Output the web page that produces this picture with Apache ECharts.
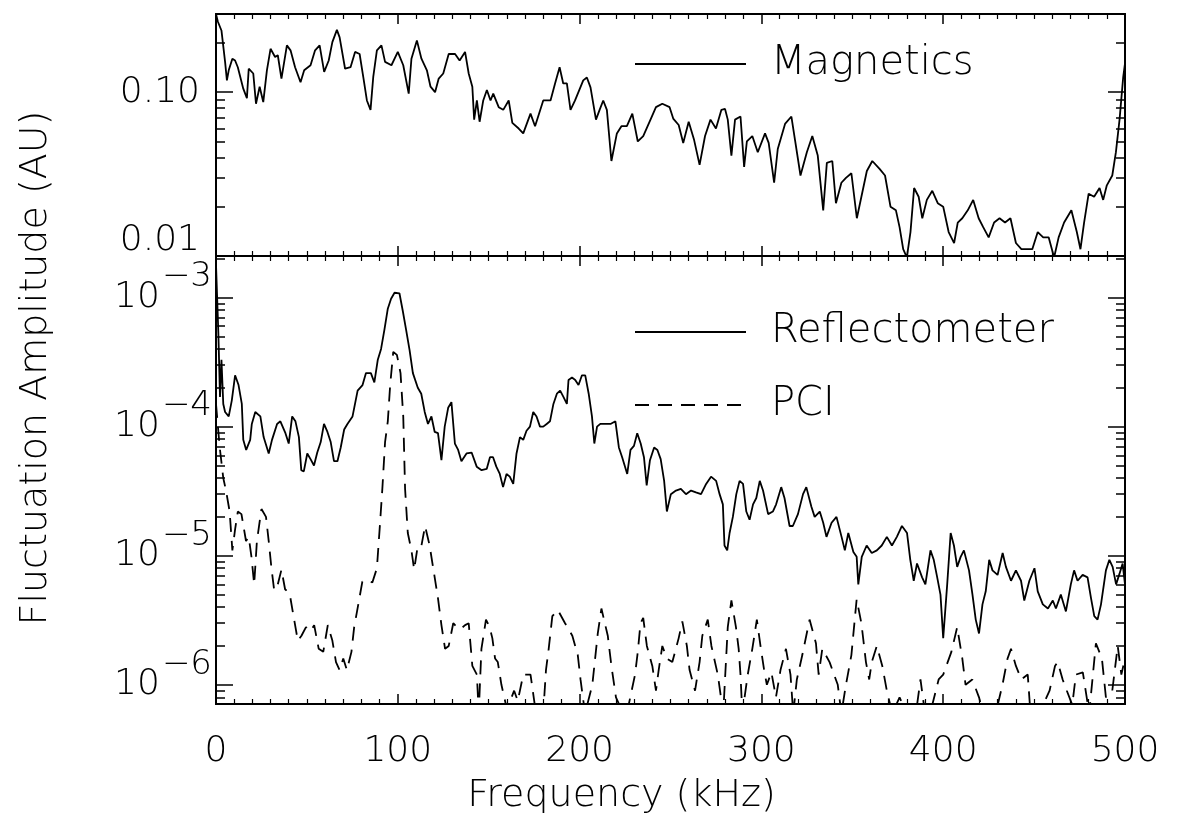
<!DOCTYPE html>
<html>
<head>
<meta charset="utf-8">
<script src="https://cdn.jsdelivr.net/npm/echarts@6.0.0/dist/echarts.min.js"></script>
<style>
  html, body { margin: 0; padding: 0; background: #fff; }
  #chart { width: 1179px; height: 835px; }
</style>
</head>
<body>
<div id="chart"></div>
<script>
// ---- data ----
// top panel: Magnetics (kHz, AU)
const magFreq = [0, 1, 3, 5, 6, 7, 9, 10.5, 12, 15, 17, 18, 20.5, 22, 24, 26, 28, 30, 32.5, 34, 36, 39, 41, 43.5, 46.5, 48.5,
  52, 54.5, 57, 59.5, 62, 64, 66.5, 68, 71, 74, 76.5, 79, 81, 83, 85, 86.5, 88.5, 91, 93, 96.5, 100, 103, 106, 107.5,
  110.5, 113, 116, 118, 120.5, 122.5, 125, 128, 131.5, 134, 137, 139, 141, 142, 143.5, 145, 147, 149, 151, 152.5, 155.5,
  158, 161, 163, 166.5, 169, 173, 175.5, 180, 184, 186.5, 189, 191, 193, 195, 197.5, 202, 204, 206, 209, 211, 213, 215,
  217.5, 220.5, 223, 226, 229, 232, 235, 239, 242, 245.5, 249.5, 251.5, 254.5, 257, 260, 263, 266, 269, 272, 275, 278,
  280, 281.5, 283.5, 285.5, 288.5, 290.5, 292, 295, 298, 302, 304, 307, 309, 313, 316.5, 318.5, 321.5, 325, 328, 331,
  334, 336, 339, 341, 344, 346.5, 349.5, 352.5, 355, 358, 361, 365, 368, 371, 374, 376, 378, 380, 382, 384, 386.5, 388.5,
  391, 394, 397, 400, 403, 406, 408, 410.5, 413.5, 416.5, 419.5, 422, 425, 428, 431, 434, 437, 440, 443, 446, 449, 452,
  455, 458, 461, 463.5, 466.5, 470.5, 473.5, 475.5, 477.5, 480, 483, 486, 488, 490, 493, 495, 497, 499, 500];
const magAmp = [0.30, 0.27, 0.238, 0.153, 0.118, 0.136, 0.16, 0.156, 0.142, 0.105, 0.092, 0.139, 0.13, 0.085, 0.108, 0.087,
  0.136, 0.184, 0.164, 0.168, 0.121, 0.193, 0.18, 0.142, 0.115, 0.136, 0.146, 0.18, 0.193, 0.133, 0.156, 0.202, 0.24,
  0.216, 0.139, 0.142, 0.176, 0.171, 0.124, 0.089, 0.078, 0.124, 0.18, 0.193, 0.153, 0.146, 0.176, 0.146, 0.098, 0.16,
  0.207, 0.16, 0.136, 0.108, 0.1, 0.121, 0.13, 0.171, 0.171, 0.156, 0.176, 0.13, 0.108, 0.068, 0.089, 0.066, 0.089, 0.103,
  0.089, 0.098, 0.081, 0.078, 0.089, 0.065, 0.06, 0.056, 0.074, 0.062, 0.089, 0.089, 0.113, 0.142, 0.113, 0.113, 0.078,
  0.089, 0.118, 0.123, 0.107, 0.068, 0.078, 0.089, 0.078, 0.038, 0.056, 0.062, 0.062, 0.074, 0.05, 0.054, 0.068, 0.081,
  0.085, 0.081, 0.069, 0.063, 0.049, 0.066, 0.051, 0.036, 0.054, 0.068, 0.06, 0.078, 0.079, 0.068, 0.041, 0.068, 0.071,
  0.035, 0.05, 0.054, 0.043, 0.056, 0.049, 0.028, 0.045, 0.064, 0.071, 0.051, 0.031, 0.043, 0.054, 0.041, 0.019, 0.037,
  0.038, 0.021, 0.028, 0.03, 0.032, 0.017, 0.023, 0.033, 0.038, 0.034, 0.031, 0.02, 0.019, 0.015, 0.011, 0.0098, 0.014,
  0.026, 0.023, 0.017, 0.022, 0.025, 0.021, 0.02, 0.014, 0.012, 0.016, 0.017, 0.019, 0.022, 0.017, 0.015, 0.013, 0.016,
  0.017, 0.016, 0.017, 0.012, 0.011, 0.011, 0.011, 0.014, 0.013, 0.013, 0.0098, 0.013, 0.016, 0.019, 0.014, 0.011, 0.016,
  0.024, 0.023, 0.026, 0.022, 0.027, 0.031, 0.043, 0.068, 0.123, 0.15];

// bottom panel: Reflectometer (kHz, AU)
const refFreq = [0, 1.3, 2.2, 3, 4, 5, 7, 8.7, 10.5, 12.4, 14.2, 15, 16.6, 18.8, 19.7, 21.6, 24.4, 26.2, 29, 30.8, 33.6,
  35.4, 38.2, 40, 41.9, 43.7, 45.6, 46.9, 48.3, 50.2, 52, 53.9, 55.7, 57.6, 59.4, 61.3, 63.1, 64.9, 66.8, 68.6, 70.5,
  72.3, 75.1, 77.9, 80.6, 82.5, 85.2, 87.1, 89, 90.8, 92.6, 94.5, 96.3, 98.2, 100.9, 102.8, 104.6, 106.5, 108.3, 111,
  112.9, 114.8, 116.6, 118.5, 120.3, 122.1, 124, 125.8, 127.7, 129.5, 131.4, 133.2, 135, 137.8, 140.6, 143.4, 146.1,
  148.9, 150.7, 152.4, 154.2, 156.1, 157.9, 159.8, 161.6, 163.5, 165.3, 167.2, 169, 170.8, 172.7, 174.5, 176.3, 178.2,
  180, 181.9, 183.7, 185.6, 187.5, 189.3, 191.1, 193, 193.9, 195.8, 197.6, 199.4, 201.3, 203.1, 205, 206.8, 208.1, 209.6,
  211.4, 214.2, 217, 219.7, 221.6, 223.4, 226.2, 228, 229.9, 231.7, 233.6, 235.4, 236.9, 238.7, 241, 242.8, 244.6, 246.5,
  248, 250.2, 253, 255.7, 258.5, 261.3, 264, 266.8, 269.6, 272.3, 275.1, 277, 278.8, 279.7, 281.2, 282.5, 284.3, 286.2,
  288, 289.9, 291.7, 293.5, 295.4, 297.2, 299.1, 300.9, 303.7, 306.3, 308.1, 310.9, 312.7, 315.5, 317.3, 320.1, 322.9,
  324.7, 327.5, 329.3, 332.1, 334, 335.8, 338.6, 341.3, 344.1, 345.9, 347.8, 350.6, 352.4, 353.3, 355.2, 357.9, 360.7,
  363.5, 366.2, 369, 371.8, 374.5, 377.3, 380.1, 381.9, 383.8, 385.6, 388.4, 390.2, 393, 394.8, 396.7, 398.5, 400, 402.2,
  404.1, 405.9, 407.7, 409.6, 411.4, 414.2, 416.1, 417.9, 419.7, 421.6, 423.4, 425.3, 427.1, 429.9, 432.7, 434.5, 437.3,
  440, 442.8, 444.6, 447.4, 450.2, 452, 454.8, 457.6, 460.3, 462, 464.7, 467.5, 470.2, 472, 473.9, 476.7, 479.4, 481.3,
  483.1, 484.9, 486.8, 489.5, 491.4, 493.2, 495.1, 496.9, 498.7, 500];
const refAmp = [1.8e-3, 5.3e-4, 1.7e-4, 3.3e-4, 1.5e-4, 1.3e-4, 1.2e-4, 1.6e-4, 2.5e-4, 2.1e-4, 1.5e-4, 7.9e-5, 6.6e-5,
  7.9e-5, 1.05e-4, 1.3e-4, 1.2e-4, 8.3e-5, 6.2e-5, 7.9e-5, 1.05e-4, 1.1e-4, 8.9e-5, 7.4e-5, 1.2e-4, 1.1e-4, 8.3e-5,
  4.6e-5, 4.5e-5, 6.2e-5, 5.6e-5, 5e-5, 6.3e-5, 7.6e-5, 1.05e-4, 9.1e-5, 7.6e-5, 5.4e-5, 5.4e-5, 6.9e-5, 9.5e-5, 1.05e-4,
  1.2e-4, 1.9e-4, 2.1e-4, 2.6e-4, 2.6e-4, 2.2e-4, 3.3e-4, 4e-4, 5.6e-4, 8.2e-4, 9.8e-4, 1.09e-3, 1.08e-3, 7.8e-4, 5.6e-4,
  3.9e-4, 2.6e-4, 2e-4, 1.8e-4, 1.3e-4, 1.05e-4, 1.2e-4, 9.1e-5, 8.9e-5, 5.5e-5, 1e-4, 1.4e-4, 1.55e-4, 7.4e-5, 6.6e-5,
  5.4e-5, 6.2e-5, 6.3e-5, 4.9e-5, 4.6e-5, 4.7e-5, 5.8e-5, 5.8e-5, 4.9e-5, 4.3e-5, 3.4e-5, 4.3e-5, 4.1e-5, 3.6e-5, 6.2e-5,
  8.3e-5, 7.9e-5, 9.3e-5, 1e-4, 1.3e-4, 1.2e-4, 1e-4, 1e-4, 1.05e-4, 1.1e-4, 1.5e-4, 1.8e-4, 1.9e-4, 1.7e-4, 1.5e-4,
  2.3e-4, 2.4e-4, 2.3e-4, 2.1e-4, 2.5e-4, 2.5e-4, 1.8e-4, 1.2e-4, 7.4e-5, 1e-4, 1.05e-4, 1.05e-4, 1.05e-4, 1.1e-4, 6.9e-5,
  5.8e-5, 4.3e-5, 6.6e-5, 7.1e-5, 8.9e-5, 7.4e-5, 5.8e-5, 3.5e-5, 5.5e-5, 6.9e-5, 6.6e-5, 5.6e-5, 3.8e-5, 2.2e-5, 3e-5,
  3.2e-5, 3.3e-5, 3e-5, 3.2e-5, 3.1e-5, 3e-5, 3.6e-5, 4.1e-5, 3.8e-5, 3e-5, 2.5e-5, 1.2e-5, 1.1e-5, 1.5e-5, 2e-5, 3e-5,
  3.8e-5, 3.6e-5, 2.2e-5, 1.9e-5, 2.5e-5, 2.8e-5, 3.8e-5, 3.2e-5, 2.1e-5, 2.2e-5, 2.5e-5, 3.4e-5, 2.8e-5, 1.7e-5, 1.7e-5,
  2.1e-5, 3e-5, 3.4e-5, 2.4e-5, 2e-5, 2.2e-5, 1.8e-5, 1.4e-5, 1.8e-5, 2e-5, 1.4e-5, 1.1e-5, 1.5e-5, 1.07e-5, 9.8e-6, 6e-6,
  9.8e-6, 1.2e-5, 1.05e-5, 1.1e-5, 1.2e-5, 1.4e-5, 1.2e-5, 1.4e-5, 1.7e-5, 1.5e-5, 9.3e-6, 6.4e-6, 8.7e-6, 6.8e-6, 6e-6,
  1.1e-5, 9.3e-6, 6.8e-6, 5e-6, 2.3e-6, 6e-6, 1.5e-5, 1.2e-5, 8.2e-6, 9.8e-6, 1.1e-5, 7.7e-6, 5e-6, 3.2e-6, 2.5e-6, 4.2e-6,
  5.3e-6, 9.3e-6, 7.7e-6, 7.1e-6, 1.05e-5, 8.2e-6, 6.4e-6, 7.7e-6, 6.4e-6, 4.5e-6, 6.4e-6, 8e-6, 5.3e-6, 4.2e-6, 3.9e-6,
  4.5e-6, 3.9e-6, 5e-6, 3.7e-6, 6e-6, 7.7e-6, 6.4e-6, 7.1e-6, 6.8e-6, 4.7e-6, 3.4e-6, 3.2e-6, 4.2e-6, 7.7e-6, 9.3e-6,
  8.2e-6, 6e-6, 7.2e-6, 8.7e-6, 6e-6];

// bottom panel: PCI (kHz, AU); values under the axis floor are clipped
const pciFreq = [0, 2, 4, 5.5, 7.5, 9, 10.5, 12, 14, 16.5, 18, 19.5, 21, 22.5, 25, 27.5, 29, 30.5, 32, 34, 36, 38, 40.5,
  42.5, 45, 47, 49.5, 52, 54, 56.5, 59, 61.5, 64, 66, 68, 70, 72, 74.5, 76, 78, 80.5, 83, 86, 88.5, 90, 91.5, 93, 94.5,
  95.8, 97.5, 99.5, 101.5, 103, 104, 105.5, 107.5, 109, 111, 113, 115, 117.5, 120, 122, 124, 126, 128, 130.5, 132.5,
  134.5, 137, 139, 141, 143.5, 144.5, 146, 148.5, 150.5, 152, 153.5, 155, 157, 160, 164, 166, 169, 173, 176, 180, 181.5,
  183, 185, 188, 192, 196, 199, 200.5, 203, 207, 210, 212, 215.5, 217.5, 220, 224, 227, 230.5, 232, 233.5, 235, 237, 240,
  242, 243.5, 245.5, 248, 251, 254.5, 256.5, 259, 260.5, 263.5, 266, 267.5, 270.5, 272.5, 276, 279, 281.5, 283.5, 286,
  287.5, 288.5, 289.5, 292.5, 295, 297.5, 299.5, 301.5, 303, 305.5, 308, 310.5, 313.5, 316, 317.5, 319.5, 322.5, 326.5,
  330, 331.5, 333.5, 337.5, 342, 344, 346.5, 349.5, 352.4, 355, 357.5, 359.3, 360.7, 363.5, 366.5, 369, 372, 376, 380,
  385, 387.5, 390, 394, 397.5, 400, 404.5, 407.7, 410.5, 412.3, 416, 419.7, 422, 428, 430, 432.6, 435.4, 437.3, 440, 443,
  446.5, 448, 452, 455, 458.5, 461.5, 463, 465.7, 468, 471, 473, 476.8, 480.3, 484, 487.3, 489.5, 493, 496, 498, 500];
const pciAmp = [1.5e-4, 7e-5, 4e-5, 3.2e-5, 2.2e-5, 1.1e-5, 1.6e-5, 2.2e-5, 2.1e-5, 1.3e-5, 1.4e-5, 9.8e-6, 6e-6, 1.3e-5,
  2.3e-5, 2e-5, 1.3e-5, 8e-6, 5.4e-6, 6e-6, 7.8e-6, 5.5e-6, 5.1e-6, 3.5e-6, 2.2e-6, 2.4e-6, 2.8e-6, 2.6e-6, 2.9e-6,
  1.9e-6, 1.8e-6, 2.9e-6, 2.2e-6, 1.5e-6, 1.3e-6, 1.6e-6, 1.3e-6, 1.8e-6, 2.8e-6, 4e-6, 6.3e-6, 6.5e-6, 6.2e-6, 8e-6,
  1.6e-5, 3.3e-5, 7.6e-5, 1.1e-4, 2.1e-4, 3.8e-4, 3.6e-4, 2.6e-4, 1.2e-4, 3.3e-5, 1.5e-5, 1.1e-5, 7.8e-6, 1.2e-5, 1.2e-5,
  1.7e-5, 1.2e-5, 7.2e-6, 4.8e-6, 2.9e-6, 1.9e-6, 2e-6, 3e-6, 2.8e-6, 2.7e-6, 2.9e-6, 3e-6, 1.4e-6, 1.2e-6, 6e-7, 1.9e-6,
  3.2e-6, 2.8e-6, 2.3e-6, 1.6e-6, 1.5e-6, 1e-6, 6.5e-7, 9e-7, 7.5e-7, 1.2e-6, 1.2e-6, 6e-7, 6e-7, 1.3e-6, 1.9e-6, 3.4e-6,
  3.8e-6, 3e-6, 2.4e-6, 1.7e-6, 1.1e-6, 6e-7, 1e-6, 2.5e-6, 3.9e-6, 2.4e-6, 1.4e-6, 8e-7, 6e-7, 7e-7, 1.2e-6, 1.8e-6,
  3e-6, 3.3e-6, 2e-6, 1.4e-6, 9e-7, 1.3e-6, 2e-6, 1.6e-6, 1.5e-6, 2.3e-6, 3.1e-6, 2e-6, 1.3e-6, 9e-7, 1.5e-6, 2.4e-6,
  3.2e-6, 2e-6, 1.2e-6, 6e-7, 2.8e-6, 4.5e-6, 2.8e-6, 1.9e-6, 1.2e-6, 6e-7, 1.2e-6, 1.9e-6, 3.2e-6, 2e-6, 1.3e-6, 1e-6,
  1.25e-6, 8e-7, 1.3e-6, 1.9e-6, 1.2e-6, 6e-7, 1.1e-6, 1.7e-6, 3.2e-6, 2.1e-6, 1.2e-6, 1.9e-6, 1.5e-6, 1e-6, 6e-7, 1e-6,
  1.7e-6, 4.6e-6, 3e-6, 1.5e-6, 1.1e-6, 1.5e-6, 2e-6, 1.4e-6, 9e-7, 6e-7, 8e-7, 6e-7, 6e-7, 1.1e-6, 6e-7, 7e-7, 1.1e-6,
  1.2e-6, 1.8e-6, 2.8e-6, 1.6e-6, 1e-6, 1.1e-6, 8e-7, 6e-7, 6e-7, 7e-7, 1e-6, 1.6e-6, 1.9e-6, 1.4e-6, 1.1e-6, 1.2e-6,
  6e-7, 6e-7, 7e-7, 9e-7, 1.4e-6, 1.5e-6, 1.1e-6, 9e-7, 7e-7, 1.2e-6, 1.25e-6, 6e-7, 2.1e-6, 1.6e-6, 8e-7, 9e-7, 2e-6,
  1.2e-6, 1.6e-6];

// axis ranges and tick labels
const freqRange = [0, 500];
const magRange = [0.01, 0.3];
const lowRange = [7.1e-7, 2.1e-3];
const magLabelTicks = [0.01, 0.1];
const lowLabelTicks = [1e-6, 1e-5, 1e-4, 1e-3];

const FONT = 'DejaVu Sans';
const WEIGHT = 200;
const INK = '#000';

const pairs = (xs, ys) => xs.map((x, i) => [x, ys[i]]);

// minor log ticks (2..9 of each decade) inside a range
function minorTicks(range) {
  const out = [];
  for (let e = Math.floor(Math.log10(range[0])); e <= Math.ceil(Math.log10(range[1])); e++) {
    for (let k = 2; k <= 9; k++) {
      const v = k * Math.pow(10, e);
      if (v >= range[0] && v <= range[1]) out.push(v);
    }
  }
  return out;
}

function xAxis(gridIndex, position, showLabel) {
  return {
    type: 'value', gridIndex, position,
    min: freqRange[0], max: freqRange[1], interval: 100,
    axisLine: { show: true, onZero: false, lineStyle: { color: INK, width: 2 } },
    axisTick: { show: true, inside: true, length: 10, lineStyle: { color: INK, width: 1.5 } },
    minorTick: { show: true, splitNumber: 10, length: 5, lineStyle: { color: INK, width: 1.2 } },
    splitLine: { show: false },
    axisLabel: { show: showLabel, color: INK, fontFamily: FONT, fontWeight: WEIGHT, fontSize: 36, margin: 30 }
  };
}

function yAxis(gridIndex, position, range, ticks, len, label) {
  return {
    type: 'log', logBase: 10, gridIndex, position,
    min: range[0], max: range[1],
    axisLine: { show: true, onZero: false, lineStyle: { color: INK, width: 2 } },
    axisTick: { show: true, inside: true, length: len, customValues: ticks, lineStyle: { color: INK, width: 1.5 } },
    splitLine: { show: false },
    axisLabel: label ? Object.assign({ customValues: ticks, color: INK, fontFamily: FONT }, label) : { show: false }
  };
}

const magLabel = {
  margin: 16,
  formatter: v => v < 0.05 ? '{lo|' + v.toFixed(2) + '}' : '{n|' + v.toFixed(2) + '}',
  rich: {
    n: { fontFamily: FONT, fontWeight: WEIGHT, fontSize: 36, color: INK },
    lo: { fontFamily: FONT, fontWeight: WEIGHT, fontSize: 36, color: INK, padding: [0, 0, 30, 0] }
  }
};
const lowLabel = {
  margin: 4,
  formatter: v => '{b|10}{e|\u2212' + (-Math.round(Math.log10(v))) + '}',
  rich: {
    b: { fontFamily: FONT, fontWeight: WEIGHT, fontSize: 36, color: INK, verticalAlign: 'middle' },
    e: { fontFamily: FONT, fontWeight: WEIGHT, fontSize: 34, color: INK, verticalAlign: 'middle', padding: [0, 0, 40, 2] }
  }
};

const legendText = {
  color: INK, fontFamily: FONT, fontWeight: WEIGHT, fontSize: 40, lineHeight: 40, padding: [0, 0, 36, 20]
};

const chart = echarts.init(document.getElementById('chart'));
chart.setOption({
  animation: false,
  backgroundColor: '#fff',
  grid: [
    { left: 216, top: 14, width: 909, height: 242, outerBoundsMode: 'none' },
    { left: 216, top: 256, width: 909, height: 448, outerBoundsMode: 'none' }
  ],
  xAxis: [
    xAxis(0, 'bottom', false),
    xAxis(0, 'top', false),
    Object.assign(xAxis(1, 'bottom', true), {
      name: 'Frequency (kHz)', nameLocation: 'middle', nameGap: 73,
      nameTextStyle: { color: INK, fontFamily: FONT, fontWeight: WEIGHT, fontSize: 38, padding: [0, 98, 0, 0] }
    }),
    xAxis(1, 'top', false)
  ],
  yAxis: [
    yAxis(0, 'left', magRange, magLabelTicks, 17, magLabel),
    yAxis(0, 'left', magRange, minorTicks(magRange), 9, null),
    yAxis(0, 'right', magRange, magLabelTicks, 17, null),
    yAxis(0, 'right', magRange, minorTicks(magRange), 9, null),
    yAxis(1, 'left', lowRange, lowLabelTicks, 17, lowLabel),
    yAxis(1, 'left', lowRange, minorTicks(lowRange), 9, null),
    yAxis(1, 'right', lowRange, lowLabelTicks, 17, null),
    yAxis(1, 'right', lowRange, minorTicks(lowRange), 9, null)
  ],
  legend: [
    {
      data: ['Magnetics'], left: 634, top: 26, padding: 0,
      itemWidth: 111, itemHeight: 14, itemStyle: { opacity: 0 },
      selectedMode: false, textStyle: legendText
    },
    {
      data: ['Reflectometer', 'PCI'], orient: 'vertical', left: 634, top: 294, padding: 0, itemGap: -3,
      itemWidth: 111, itemHeight: 14, itemStyle: { opacity: 0 },
      selectedMode: false, textStyle: legendText
    }
  ],
  graphic: [{
    type: 'text', x: 36, y: 368, rotation: Math.PI / 2,
    style: {
      text: 'Fluctuation Amplitude (AU)', fill: INK,
      fontFamily: FONT, fontWeight: WEIGHT, fontSize: 38, align: 'center', verticalAlign: 'middle'
    }
  }],
  series: [
    {
      name: 'Magnetics', type: 'line', xAxisIndex: 0, yAxisIndex: 0,
      data: pairs(magFreq, magAmp), symbol: 'none', clip: true,
      lineStyle: { color: INK, width: 1.8 }, itemStyle: { color: INK }
    },
    {
      name: 'Reflectometer', type: 'line', xAxisIndex: 2, yAxisIndex: 4,
      data: pairs(refFreq, refAmp), symbol: 'none', clip: true,
      lineStyle: { color: INK, width: 1.8 }, itemStyle: { color: INK }
    },
    {
      name: 'PCI', type: 'line', xAxisIndex: 2, yAxisIndex: 4,
      data: pairs(pciFreq, pciAmp), symbol: 'none', clip: true,
      lineStyle: { color: INK, width: 1.8, type: [14, 9] }, itemStyle: { color: INK }
    }
  ]
});
</script>
</body>
</html>
